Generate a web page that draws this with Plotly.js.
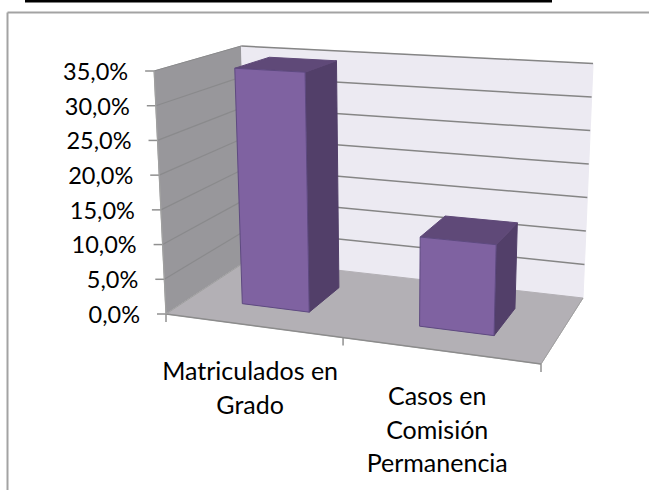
<!DOCTYPE html>
<html><head><meta charset="utf-8">
<script src="https://cdn.plot.ly/plotly-3.0.1.min.js"></script>
<style>html,body{margin:0;padding:0;background:#fff}#c{width:649px;height:490px}</style>
</head><body><div id="c"></div>
<script>
const categories = [["Matriculados en","Grado"],["Casos en","Comisión","Permanencia"]];
const values = [34.7, 12.5];
const tickValues = [0,5,10,15,20,25,30,35];
const tickLabels = ["0,0%","5,0%","10,0%","15,0%","20,0%","25,0%","30,0%","35,0%"];

// Oblique-perspective scale of the 3-D box: u along categories, v along depth, h along value
const maxV = 35, horizon = -138, rise = 0.5376, leanX = 388, leanK = 0.00022;
const A=[166,314],B=[541,364],C=[583,298],D=[248,260];
const dx1=B[0]-C[0],dx2=D[0]-C[0],sx=A[0]-B[0]+C[0]-D[0];
const dy1=B[1]-C[1],dy2=D[1]-C[1],sy=A[1]-B[1]+C[1]-D[1];
const den=dx1*dy2-dx2*dy1, g=(sx*dy2-dx2*sy)/den, hh=(dx1*sy-sx*dy1)/den;
const a=B[0]-A[0]+g*B[0], b=D[0]-A[0]+hh*D[0], d=B[1]-A[1]+g*B[1], e=D[1]-A[1]+hh*D[1];
function P(u,v,h){
  const w=g*u+hh*v+1, x=(a*u+b*v+A[0])/w, y=(d*u+e*v+A[1])/w;
  const H=rise*(y-horizon)*h/maxV;
  return [x+(x-leanX)*leanK*H, y-H];
}
function poly(pts,fill,line,lw){
  const c=pts.concat([pts[0]]);
  return {type:"scatter",mode:"lines",x:c.map(p=>p[0]),y:c.map(p=>p[1]),fill:"toself",fillcolor:fill,
    line:{color:line||fill,width:lw===undefined?1:lw},hoverinfo:"skip",showlegend:false};
}
function seg(pts,color,w){
  return {type:"scatter",mode:"lines",x:pts.map(p=>p[0]),y:pts.map(p=>p[1]),
    line:{color:color,width:w},hoverinfo:"skip",showlegend:false};
}
const traces=[];
// walls and floor
traces.push(poly([P(0,0,0),P(0,1,0),P(0,1,maxV),P(0,0,maxV)],"#98979b","#a3a3a5",1));
traces.push(poly([P(0,1,0),P(1,1,0),P(1,1,maxV),P(0,1,maxV)],"#eceaf2","#eceaf2",1));
traces.push(poly([P(0,0,0),P(1,0,0),P(1,1,0),P(0,1,0)],"#b3b0b5","#b3b0b5",1));
// gridlines
tickValues.forEach(t=>{
  if(t>0) traces.push(seg([P(0,0,t),P(0,1,t)],"#8a8a8c",1.2));
  if(t>0) traces.push(seg([P(0,1,t),P(1,1,t)],"#858585",1.5));
  traces.push(seg([[P(0,0,t)[0]-9,P(0,0,t)[1]],P(0,0,t)],"#909090",1.5));
});
traces.push(seg([P(0,0,0),P(1,0,0)],"#8c8c8c",1.5));
traces.push(seg([P(1,0,0),P(1,1,0)],"#a0a0a0",1));
traces.push(seg([P(0,0,0),P(0,1,0)],"#a0a0a0",1));
traces.push(seg([P(0,0,0),P(0,0,maxV)],"#a0a0a0",1.2));
[0,0.5,1].forEach(u=>{const p=P(u,0,0);traces.push(seg([p,[p[0],p[1]+8]],"#909090",1.5));});
// bars
const barW=0.195, v0=0.285, v1=0.71, shift=0.001;
values.forEach((val,i)=>{
  const c=(i+0.5)/values.length+shift, u0=c-barW/2, u1=c+barW/2;
  traces.push(poly([P(u1,v0,0),P(u1,v1,0),P(u1,v1,val),P(u1,v0,val)],"#523f69","#523f69",1));
  traces.push(poly([P(u0,v0,val),P(u1,v0,val),P(u1,v1,val),P(u0,v1,val)],"#5f4978","#5f4978",1));
  traces.push(poly([P(u0,v0,0),P(u1,v0,0),P(u1,v0,val),P(u0,v0,val)],"#7f62a1","#5e4a80",1));
});
// value-axis labels
const font={family:"Lato, Carlito, sans-serif",size:23.5,color:"#000"};
traces.push({type:"scatter",mode:"text",x:tickValues.map(t=>P(0,0,t)[0]-26),y:tickValues.map(t=>P(0,0,t)[1]+3),
  text:tickLabels,textposition:"middle left",textfont:font,hoverinfo:"skip",showlegend:false});
// category labels, one point per line
const catX=[],catY=[],catT=[];
categories.forEach((lines,i)=>{
  const p=P((i+0.5)/categories.length,0,0);
  lines.forEach((t,j)=>{catX.push(p[0]-2);catY.push(p[1]+48.5+j*33.5);catT.push(t);});
});
traces.push({type:"scatter",mode:"text",x:catX,y:catY,text:catT,textposition:"middle center",
  textfont:Object.assign({},font,{size:25}),hoverinfo:"skip",showlegend:false});

const layout={width:649,height:490,margin:{l:0,r:0,t:0,b:0},paper_bgcolor:"#fff",plot_bgcolor:"#fff",
  xaxis:{range:[0,649],visible:false,fixedrange:true},
  yaxis:{range:[490,0],visible:false,fixedrange:true},
  showlegend:false,
  shapes:[
    {type:"line",xref:"x",yref:"y",x0:25,x1:552,y0:1,y1:1,line:{color:"#000",width:3}},
    {type:"line",xref:"x",yref:"y",x0:7.5,x1:649,y0:12.5,y1:12.5,line:{color:"#a3a3a3",width:2}},
    {type:"line",xref:"x",yref:"y",x0:7.5,x1:7.5,y0:12.5,y1:490,line:{color:"#a3a3a3",width:2}}
  ]};
Plotly.newPlot("c",traces,layout,{displayModeBar:false,staticPlot:true});
</script></body></html>
